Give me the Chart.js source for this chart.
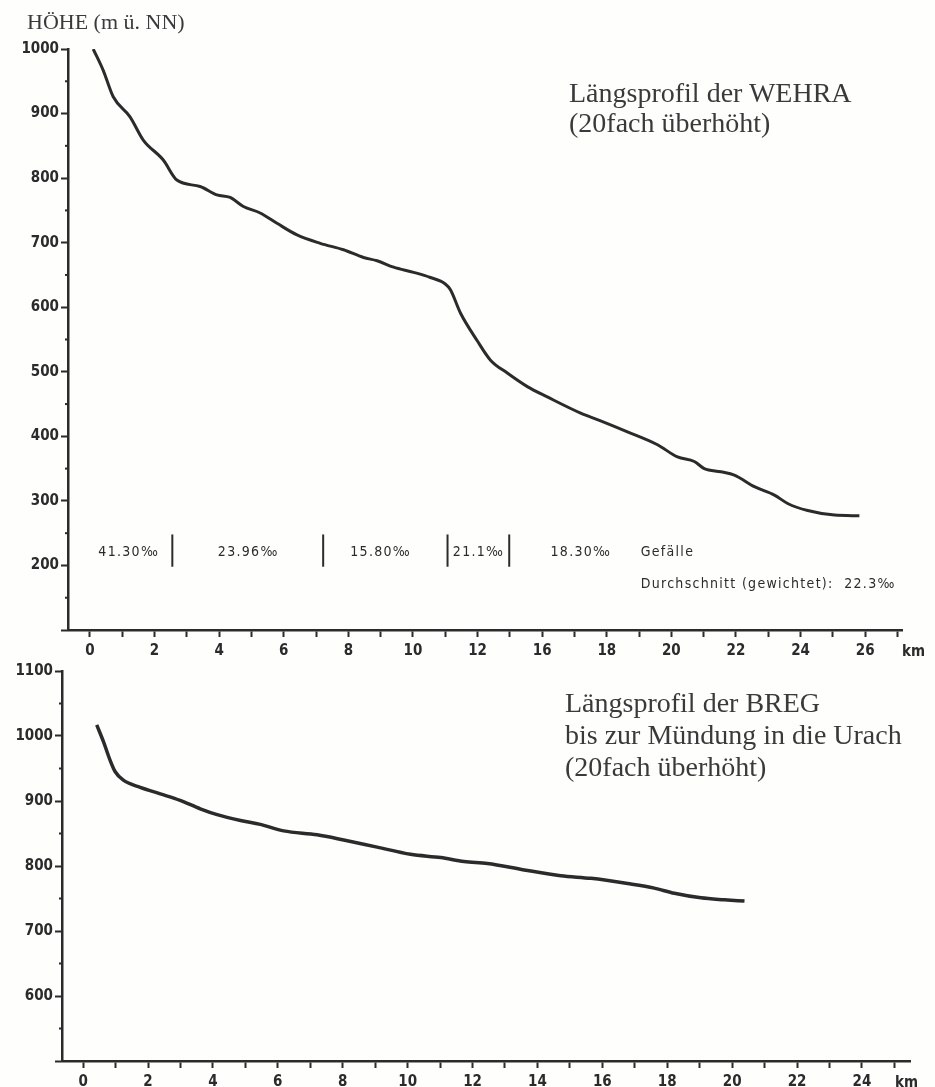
<!DOCTYPE html>
<html>
<head>
<meta charset="utf-8">
<script src="https://cdn.jsdelivr.net/npm/chart.js@4"></script>
<style>
  body { margin: 0; background: #fff; }
  #page { position: relative; width: 935px; height: 1087px; overflow: hidden; background: #fefefd; }
  canvas { position: absolute; left: 0; }
  .serif { position: absolute; font-family: "Liberation Serif", serif; color: #3a3a3a; white-space: nowrap; }
</style>
</head>
<body>
<div id="page">
  <canvas id="wehra" width="935" height="660" style="top:0"></canvas>
  <canvas id="breg" width="935" height="427" style="top:660px"></canvas>

  <div class="serif" style="left:27px; top:10px; font-size:22px; line-height:24px">HÖHE (m ü. NN)</div>
  <div class="serif" style="left:569px; top:78px; font-size:28px; line-height:30px">Längsprofil der WEHRA<br>(20fach überhöht)</div>
  <div class="serif" style="left:565px; top:687px; font-size:28px; line-height:32px">Längsprofil der BREG<br>bis zur Mündung in die Urach<br>(20fach überhöht)</div>
</div>

<script>
const ink = '#2b2b2b'
const tickFont = { family: 'DejaVu Sans Condensed', size: 15, weight: 'bold' }

// Wehra: Lauflänge (km) und Höhe (m ü. NN)
const wehraKm = [0.1, 0.41, 0.72, 1.24, 1.65, 2.27, 2.69, 3.41, 3.93, 4.34, 4.75, 5.27, 5.79, 6.41, 7.13, 7.85, 8.47, 8.89, 9.4, 10.02, 10.54, 11.0, 11.16, 11.47, 11.99, 12.4, 12.92, 13.54, 14.16, 15.19, 15.81, 16.64, 17.57, 18.19, 18.71, 19.02, 19.53, 19.95, 20.57, 21.19, 21.6, 22.22, 23.05, 23.82]
const wehraHeight = [1000, 967, 926, 895, 859, 828, 797, 787, 774, 770, 756, 746, 730, 712, 699, 689, 677, 672, 662, 654, 646, 636, 627, 591, 548, 518, 498, 477, 461, 436, 424, 407, 387, 368, 361, 350, 345, 340, 322, 309, 296, 285, 278, 277]
const wehraKmLabels = ['0', '2', '4', '6', '8', '10', '12', '16', '18', '20', '22', '24', '26']
const wehraHeightLabels = [200, 300, 400, 500, 600, 700, 800, 900, 1000]

// Gefälle-Abschnitte
const gefaelleBreaks = [2.55, 7.22, 11.07, 12.98]
const gefaelleLabels = ['41.30‰', '23.96‰', '15.80‰', '21.1‰', '18.30‰']
const gefaelleLabelKm = [1.2, 4.9, 9.0, 12.03, 15.2]

// Breg: Lauflänge (km) und Höhe (m ü. NN)
const bregKm = [0.42, 0.63, 0.83, 0.99, 1.24, 1.76, 2.38, 2.99, 3.61, 4.13, 4.85, 5.46, 6.18, 7.21, 8.03, 9.06, 10.09, 11.02, 11.74, 12.46, 13.59, 14.72, 15.65, 16.78, 17.6, 18.22, 19.04, 19.76, 20.38]
const bregHeight = [1017, 991, 963, 945, 932, 921, 911, 901, 888, 879, 870, 864, 854, 848, 840, 829, 818, 813, 807, 804, 794, 785, 781, 773, 766, 758, 751, 748, 746]
const bregKmLabels = ['0', '2', '4', '6', '8', '10', '12', '14', '16', '18', '20', '22', '24']
const bregHeightLabels = [600, 700, 800, 900, 1000, 1100]

const breakBottom = 198
const breakTop = 248

const profileExtras = {
  id: 'profileExtras',
  afterDraw(chart, args, opts) {
    const ctx = chart.ctx
    const xs = chart.scales.x
    const ys = chart.scales.y
    ctx.save()
    ctx.strokeStyle = ink
    ctx.fillStyle = ink
    ctx.lineWidth = 2
    // kurze Zwischenstriche alle 50 m
    ys.ticks.forEach(t => {
      if (t.value % 100 === 0) return
      const py = ys.getPixelForValue(t.value)
      ctx.beginPath()
      ctx.moveTo(xs.left - 3, py)
      ctx.lineTo(xs.left, py)
      ctx.stroke()
    })
    ctx.font = 'bold 15px "DejaVu Sans Condensed"'
    ctx.textBaseline = 'middle'
    ctx.fillText('km', xs.right + opts.kmOffset, chart.chartArea.bottom + 22)

    if (opts.gefaelle) {
      ctx.font = '14px "DejaVu Sans Condensed"'
      ctx.letterSpacing = '1.3px'
      ctx.textAlign = 'center'
      gefaelleLabels.forEach((label, i) => {
        ctx.fillText(label, xs.getPixelForValue(gefaelleLabelKm[i]), ys.getPixelForValue(221))
      })
      ctx.textAlign = 'left'
      ctx.fillText('Gefälle', xs.getPixelForValue(17.05), ys.getPixelForValue(221))
      ctx.fillText('Durchschnitt (gewichtet):  22.3‰', xs.getPixelForValue(17.05), ys.getPixelForValue(171))
    }
    ctx.restore()
  }
}

function profileChart(canvasId, setup) {
  const datasets = [{
    data: setup.km.map((k, i) => ({ x: k, y: setup.height[i] })),
    borderColor: ink,
    borderWidth: setup.lineWidth,
    pointRadius: 0,
    cubicInterpolationMode: 'monotone',
    fill: false
  }]
  ;(setup.breaks || []).forEach(k => {
    datasets.push({
      data: [{ x: k, y: breakBottom }, { x: k, y: breakTop }],
      borderColor: ink,
      borderWidth: 2,
      pointRadius: 0
    })
  })

  return new Chart(document.getElementById(canvasId), {
    type: 'line',
    data: { datasets: datasets },
    options: {
      responsive: false,
      animation: false,
      events: [],
      layout: { padding: setup.padding },
      plugins: {
        legend: { display: false },
        tooltip: { enabled: false },
        profileExtras: { kmOffset: setup.kmOffset, gefaelle: !!setup.breaks }
      },
      scales: {
        x: {
          type: 'linear',
          min: setup.xMin,
          max: setup.xMax,
          afterBuildTicks: s => {
            const t = []
            for (let v = 0; v <= 25; v++) t.push({ value: v })
            s.ticks = t
          },
          afterFit: s => { s.height = setup.xHeight },
          ticks: {
            autoSkip: false,
            maxRotation: 0,
            padding: 5,
            color: ink,
            font: tickFont,
            callback: v => (v % 2 === 0 ? setup.kmLabels[v / 2] : '')
          },
          grid: { drawOnChartArea: false, tickLength: 7, tickWidth: 2, tickColor: ink },
          border: { color: ink, width: 2.5 }
        },
        y: {
          min: setup.yMin,
          max: setup.yMax,
          afterBuildTicks: s => {
            const t = []
            for (let v = setup.yMin; v <= setup.yMax; v += 50) t.push({ value: v })
            s.ticks = t
          },
          afterFit: s => { s.width = setup.yWidth },
          ticks: {
            autoSkip: false,
            padding: 2,
            color: ink,
            font: tickFont,
            callback: v => (setup.heightLabels.includes(v) ? String(v) : '')
          },
          grid: {
            drawOnChartArea: false,
            tickLength: 7,
            tickWidth: 2,
            tickColor: c => (c.tick && c.tick.value % 100 === 0 ? ink : 'rgba(0,0,0,0)')
          },
          border: { color: ink, width: 2.5 }
        }
      }
    },
    plugins: [profileExtras]
  })
}

profileChart('wehra', {
  km: wehraKm,
  height: wehraHeight,
  kmLabels: wehraKmLabels,
  heightLabels: wehraHeightLabels,
  breaks: gefaelleBreaks,
  lineWidth: 3,
  xMin: -0.68,
  xMax: 25.14,
  yMin: 100,
  yMax: 1000,
  yWidth: 68,
  xHeight: 30,
  kmOffset: 0,
  padding: { top: 49, right: 33, left: 0, bottom: 0 }
})

profileChart('breg', {
  km: bregKm,
  height: bregHeight,
  kmLabels: bregKmLabels,
  heightLabels: bregHeightLabels,
  lineWidth: 3.5,
  xMin: -0.65,
  xMax: 25.48,
  yMin: 500,
  yMax: 1100,
  yWidth: 62,
  xHeight: 26,
  kmOffset: -15,
  padding: { top: 11, right: 25, left: 0, bottom: 0 }
})
</script>
</body>
</html>
